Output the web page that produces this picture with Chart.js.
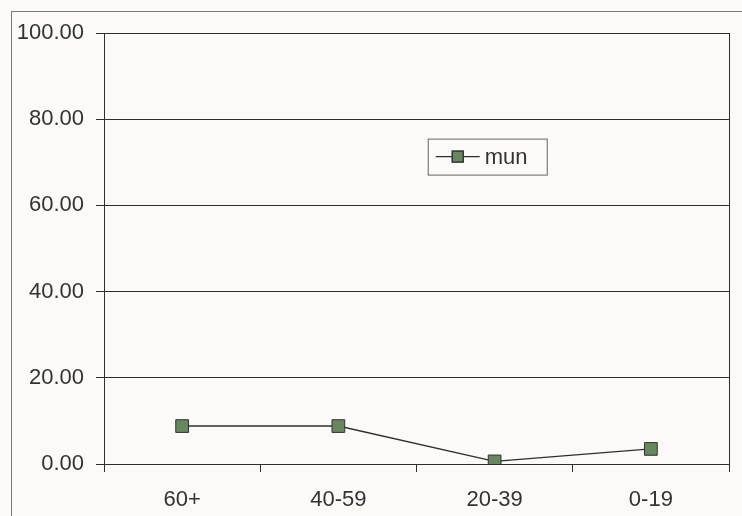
<!DOCTYPE html>
<html>
<head>
<meta charset="utf-8">
<script src="https://cdn.jsdelivr.net/npm/chart.js@4/dist/chart.umd.min.js"></script>
<style>
  html, body { margin: 0; padding: 0; background: #fbfaf8; overflow: hidden; }
  #frame {
    position: absolute; left: 11px; top: 11px; width: 800px; height: 600px;
    border-left: 1px solid #777; border-top: 1px solid #777;
  }
  #wrap { position: absolute; left: 0; top: 0; width: 742px; height: 516px; }
</style>
</head>
<body>
<div id="frame"></div>
<div id="wrap"><canvas id="myChart" width="742" height="516"></canvas></div>
<script>
const categories = ['60+', '40-59', '20-39', '0-19'];
const munValues = [8.8, 8.8, 0.6, 3.5];
const yTicks = [0, 20, 40, 60, 80, 100];

const lineColor = '#2e2e2e';
const textColor = '#333333';

const ctx = document.getElementById('myChart').getContext('2d');

const chart = new Chart(ctx, {
    type: 'line',
    data: {
        labels: categories,
        datasets: [{
            label: 'mun',
            data: munValues,
            borderColor: lineColor,
            borderWidth: 1.4,
            pointStyle: 'rect',
            pointRadius: 9,
            pointBackgroundColor: '#67875f',
            pointBorderColor: '#333',
            pointBorderWidth: 1,
            tension: 0
        }]
    },
    options: {
        responsive: false,
        animation: false,
        layout: { padding: { left: 0, top: 33, right: 13, bottom: 0 } },
        scales: {
            x: {
                offset: true,
                grid: { offset: true, drawOnChartArea: false, drawTicks: true, tickLength: 8, color: lineColor },
                border: { color: lineColor, width: 1 },
                ticks: { color: textColor, font: { family: 'Liberation Sans', size: 22 }, padding: 15 },
                afterFit: s => { s.height = 52; }
            },
            y: {
                min: 0,
                max: 100,
                afterBuildTicks: s => { s.ticks = yTicks.map(v => ({ value: v })); },
                grid: { color: lineColor, tickLength: 8 },
                border: { color: lineColor, width: 1 },
                ticks: {
                    color: textColor,
                    font: { family: 'Liberation Sans', size: 22 },
                    padding: 12,
                    callback: v => v.toFixed(2)
                },
                afterFit: s => { s.width = 104; }
            },
            y2: {
                position: 'right',
                min: 0,
                max: 100,
                grid: { drawOnChartArea: false, drawTicks: false },
                border: { color: lineColor, width: 1 },
                ticks: { display: false },
                afterFit: s => { s.width = 0; }
            }
        },
        plugins: {
            legend: { display: false },
            tooltip: { enabled: false }
        }
    },
    plugins: [{
        // small boxed legend inside the plot, like the original
        id: 'boxLegend',
        afterDraw(c) {
            const g = c.ctx;
            const ds = c.data.datasets[0];
            const x = c.scales.x.left + (c.scales.x.right - c.scales.x.left) * 0.518;
            const y = c.scales.y.getPixelForValue(75.5);
            g.save();
            g.strokeStyle = '#666';
            g.lineWidth = 1;
            g.fillStyle = '#fbfaf8';
            g.fillRect(x, y, 119, 36);
            g.strokeRect(x + 0.5, y + 0.5, 119, 36);
            const cy = y + 18;
            g.strokeStyle = lineColor;
            g.lineWidth = 1.4;
            g.beginPath();
            g.moveTo(x + 8, cy);
            g.lineTo(x + 52, cy);
            g.stroke();
            g.fillStyle = ds.pointBackgroundColor;
            g.fillRect(x + 24, cy - 6, 12, 12);
            g.strokeStyle = '#333';
            g.strokeRect(x + 24.5, cy - 5.5, 11, 11);
            g.fillStyle = textColor;
            g.font = '22px "Liberation Sans"';
            g.textBaseline = 'middle';
            g.fillText(ds.label, x + 57, cy + 1);
            g.restore();
        }
    }]
});
</script>
</body>
</html>
